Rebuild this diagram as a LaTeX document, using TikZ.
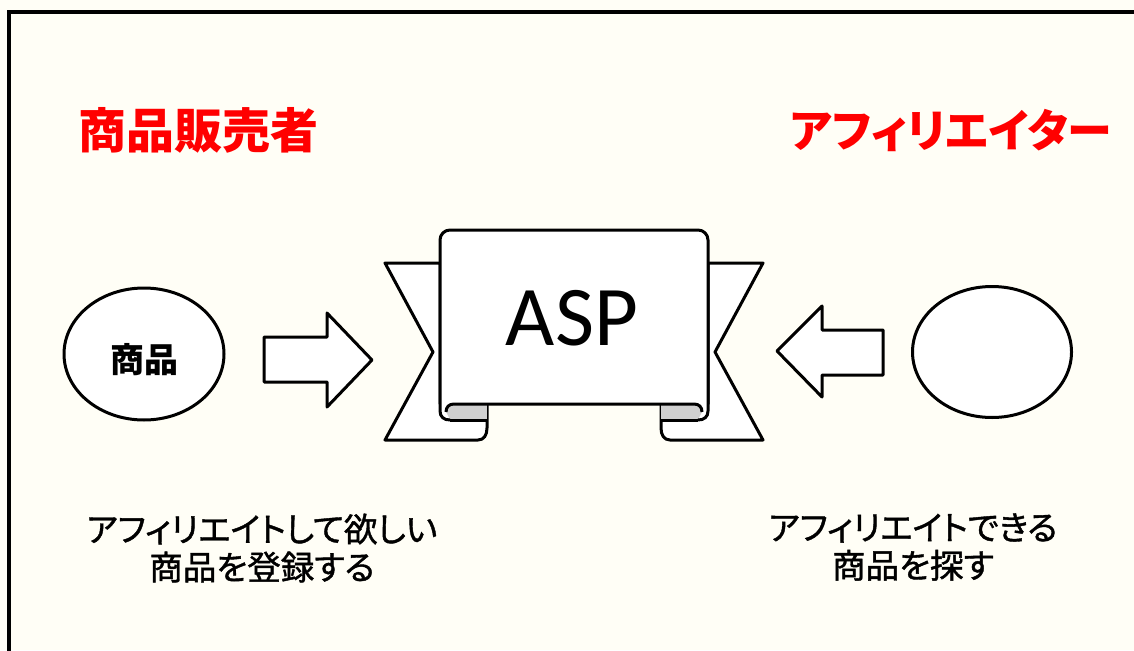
\documentclass[tikz,border=0pt]{standalone}
\usepackage{fontspec}
\usetikzlibrary{shapes.geometric}
\newfontfamily\jp[RawFeature=+palt]{Noto Sans CJK JP}
\newfontfamily\jpmed[RawFeature=+palt,FakeBold=1.2]{Noto Sans CJK JP}
\newfontfamily\aspfont{Carlito}
\definecolor{bg}{RGB}{255,254,246}
\definecolor{foldgray}{RGB}{208,208,208}
\definecolor{titlered}{RGB}{255,0,0}
\tikzset{
  outline/.style={draw=black,line width=3pt,line join=round},
  frameline/.style={draw=black,line width=4pt},
  title/.style={text=titlered,inner sep=0pt,font=\jp\bfseries\fontsize{48}{52}\selectfont},
  caption/.style={text=black,inner sep=0pt,align=center,font=\jpmed\fontsize{33.5}{38}\selectfont},
  oval/.style={ellipse,outline,fill=white,inner sep=0pt},
}
\begin{document}
\begin{tikzpicture}[x=1pt,y=-1pt]
\useasboundingbox (0,0) rectangle (1134,650);
\fill[bg] (0,0) rectangle (1134,650);
\begin{scope}
\clip (0,0) rectangle (1134,650);
\draw[frameline] (9,12) rectangle (1145,665);
\end{scope}

% titles
\node[title] (seller) at (198,130) {商品販売者};
\node[title,font=\jp\bfseries\fontsize{45}{50}\selectfont] (affiliater) at (951,130) {アフィリエイター};

% ovals
\node[oval,minimum width=160pt,minimum height=132pt] (goods) at (144,354) {};
\node[inner sep=0pt,font=\jp\bfseries\fontsize{34}{36}\selectfont] (goodslabel) at (144,360) {商品};
\node[oval,minimum width=159pt,minimum height=131pt] (affoval) at (992,352) {};

% block arrows
\draw[outline,fill=white] (264,337) -- (327,337) -- (327,313) -- (372,360) -- (327,407) -- (327,382) -- (264,382) -- cycle;
\draw[outline,fill=white] (883,330) -- (822,330) -- (822,306) -- (777,351) -- (822,397) -- (822,375) -- (883,375) -- cycle;

% ribbon tails
\draw[outline,fill=white] (440,263) -- (385,263) -- (433,352) -- (385,440) -- (478,440) .. controls (484,440) and (487,435) .. (487,428) -- (487,404) -- (440,404) -- cycle;
\draw[outline,fill=white] (708,263) -- (763,263) -- (715,352) -- (763,440) -- (670,440) .. controls (664,440) and (661,435) .. (661,428) -- (661,404) -- (708,404) -- cycle;
% gray folds
\fill[foldgray] (446,404) rectangle (487,420);
\fill[foldgray] (661,404) rectangle (702,420);
\draw[outline] (450,420) -- (487,420);
\draw[outline] (661,420) -- (698,420);
% panel
\fill[white] (450,420) .. controls (444,420) and (440,417) .. (440,411) [rounded corners=10pt] -- (440,230) -- (708,230) [sharp corners] -- (708,411) .. controls (708,417) and (704,420) .. (698,420) -- (702,412) .. controls (702,407) and (699,404) .. (694,404) -- (454,404) .. controls (449,404) and (446,407) .. (446,412) -- cycle;
\draw[outline] (450,420) .. controls (444,420) and (440,417) .. (440,411) [rounded corners=10pt] -- (440,230) -- (708,230) [sharp corners] -- (708,411) .. controls (708,417) and (704,420) .. (698,420);
\draw[outline] (446,412) .. controls (446,407) and (449,404) .. (454,404) -- (694,404) .. controls (699,404) and (702,407) .. (702,412);
\node[inner sep=0pt,font=\aspfont\fontsize{85}{88}\selectfont] (asp) at (572,318) {ASP};

% captions
\node[caption] (leftcap) at (262,548) {アフィリエイトして欲しい\\商品を登録する};
\node[caption] (rightcap) at (913,547) {アフィリエイトできる\\商品を探す};
\end{tikzpicture}
\end{document}
